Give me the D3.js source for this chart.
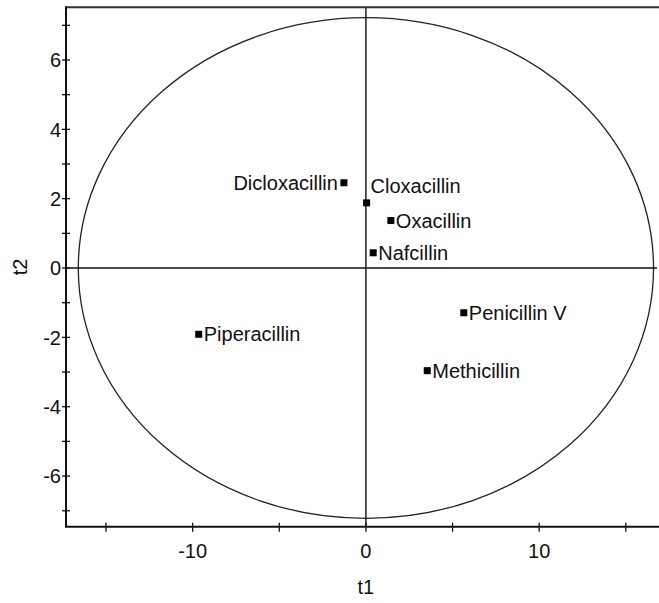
<!DOCTYPE html>
<html>
<head>
<meta charset="utf-8">
<script src="https://cdn.jsdelivr.net/npm/d3@7"></script>
<style>
  body { margin: 0; background: #fff; }
  svg { display: block; font-family: "Liberation Sans", Arial, sans-serif; }
</style>
</head>
<body>
<div class="chart"></div>
<script>
// Score plot data (t1 vs t2)
const names = ["Dicloxacillin", "Cloxacillin", "Oxacillin", "Nafcillin", "Piperacillin", "Penicillin V", "Methicillin"];
const t1 = [-1.27, 0.04, 1.44, 0.42, -9.65, 5.65, 3.54];
const t2 = [2.46, 1.88, 1.37, 0.44, -1.91, -1.29, -2.96];

// Hotelling ellipse radii
const ellipseT1 = 16.6;
const ellipseT2 = 7.22;

// Axis ticks
const xMajor = [-10, 0, 10];
const xMinor = [-15, -5, 5, 15];
const yMajor = [-6, -4, -2, 0, 2, 4, 6];
const yMinor = [-7, -5, -3, -1, 1, 3, 5, 7];

const width = 659, height = 603;
const plotLeft = 66, plotRight = 657, plotTop = 7.3, plotBottom = 526.7;
const fontSize = "20px";

const svg = d3.select(".chart").append("svg")
  .attr("width", width)
  .attr("height", height);

const x = d3.scaleLinear().domain([-17.31, 16.8]).range([plotLeft, plotRight]);
const y = d3.scaleLinear().domain([-7.46, 7.52]).range([plotBottom, plotTop]);

// ellipse
svg.append("ellipse")
  .attr("cx", x(0))
  .attr("cy", y(0))
  .attr("rx", x(ellipseT1) - x(0))
  .attr("ry", y(0) - y(ellipseT2))
  .attr("fill", "none")
  .attr("stroke", "#222")
  .attr("stroke-width", 1.3);

// zero lines
svg.append("line")
  .attr("x1", x(0)).attr("x2", x(0))
  .attr("y1", plotTop).attr("y2", plotBottom)
  .attr("stroke", "#111").attr("stroke-width", 1.4);
svg.append("line")
  .attr("x1", plotLeft).attr("x2", plotRight)
  .attr("y1", y(0)).attr("y2", y(0))
  .attr("stroke", "#111").attr("stroke-width", 1.4);

// top frame line
svg.append("line")
  .attr("x1", plotLeft).attr("x2", width)
  .attr("y1", plotTop).attr("y2", plotTop)
  .attr("stroke", "#333").attr("stroke-width", 2);

// y axis
const yAxis = svg.append("g");
yAxis.append("line")
  .attr("x1", plotLeft).attr("x2", plotLeft)
  .attr("y1", plotTop - 1).attr("y2", plotBottom)
  .attr("stroke", "#111").attr("stroke-width", 2);
yAxis.selectAll(".ytick")
  .data(yMajor.concat(yMinor))
  .enter().append("line")
  .attr("x1", plotLeft - 4).attr("x2", plotLeft + 4)
  .attr("y1", d => y(d)).attr("y2", d => y(d))
  .attr("stroke", "#111").attr("stroke-width", 1.3);
yAxis.selectAll(".ylabel")
  .data(yMajor)
  .enter().append("text")
  .attr("x", plotLeft - 5)
  .attr("y", d => y(d))
  .attr("dy", "0.36em")
  .attr("text-anchor", "end")
  .style("font-size", fontSize)
  .attr("fill", "#111")
  .text(d => d);

// x axis
const xAxis = svg.append("g");
xAxis.append("line")
  .attr("x1", plotLeft - 1).attr("x2", width)
  .attr("y1", plotBottom).attr("y2", plotBottom)
  .attr("stroke", "#111").attr("stroke-width", 2);
xAxis.selectAll(".xtick")
  .data(xMajor.concat(xMinor))
  .enter().append("line")
  .attr("x1", d => x(d)).attr("x2", d => x(d))
  .attr("y1", plotBottom - 4).attr("y2", plotBottom + 5)
  .attr("stroke", "#111").attr("stroke-width", 1.3);
xAxis.selectAll(".xlabel")
  .data(xMajor)
  .enter().append("text")
  .attr("x", d => x(d))
  .attr("y", 558)
  .attr("text-anchor", "middle")
  .style("font-size", fontSize)
  .attr("fill", "#111")
  .text(d => d);

// axis titles
svg.append("text")
  .attr("x", x(0))
  .attr("y", 594)
  .attr("text-anchor", "middle")
  .style("font-size", fontSize)
  .attr("fill", "#111")
  .text("t1");
svg.append("text")
  .attr("transform", `translate(27, ${(plotTop + plotBottom) / 2}) rotate(-90)`)
  .attr("text-anchor", "middle")
  .style("font-size", fontSize)
  .attr("fill", "#111")
  .text("t2");

// points
const points = names.map((n, i) => ({ name: n, t1: t1[i], t2: t2[i] }));

svg.selectAll(".pt")
  .data(points)
  .enter().append("rect")
  .attr("x", d => x(d.t1) - 3.5)
  .attr("y", d => y(d.t2) - 3.5)
  .attr("width", 7)
  .attr("height", 7)
  .attr("fill", "#000");

// label placement: most sit to the right of the marker
function labelPos(d) {
  if (d.name === "Dicloxacillin") return { dx: -6, dy: 0, anchor: "end" };
  if (d.name === "Cloxacillin") return { dx: 4, dy: -17, anchor: "start" };
  return { dx: 5, dy: 0, anchor: "start" };
}

svg.selectAll(".lbl")
  .data(points)
  .enter().append("text")
  .attr("x", d => x(d.t1) + labelPos(d).dx)
  .attr("y", d => y(d.t2) + labelPos(d).dy)
  .attr("dy", "0.36em")
  .attr("text-anchor", d => labelPos(d).anchor)
  .style("font-size", fontSize)
  .attr("fill", "#111")
  .text(d => d.name);
</script>
</body>
</html>
